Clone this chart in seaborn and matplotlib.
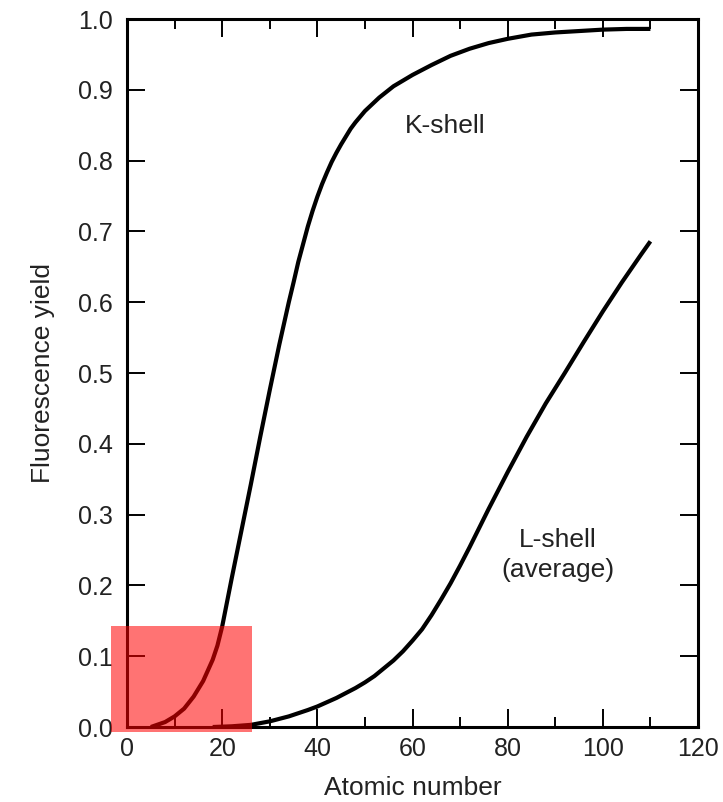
import matplotlib
matplotlib.use("Agg")
import matplotlib.pyplot as plt
from matplotlib.patches import Rectangle
from matplotlib.ticker import MultipleLocator
import pandas as pd
import seaborn as sns

# K-shell fluorescence yield
k_z = [5, 8, 10, 12, 14, 16, 18, 19, 20, 22, 24, 26, 28, 30, 32, 34, 35, 36, 37,
       38, 39, 40, 41, 42, 43, 44, 45, 46, 47, 48, 49, 50, 53, 56, 60, 64, 68,
       72, 76, 80, 85, 90, 95, 100, 105, 110]
k_yield = [0.0, 0.007, 0.015, 0.026, 0.043, 0.065, 0.095, 0.115, 0.142, 0.21,
           0.276, 0.342, 0.41, 0.476, 0.54, 0.60, 0.628, 0.657, 0.682, 0.707,
           0.729, 0.749, 0.767, 0.783, 0.798, 0.811, 0.823, 0.834, 0.845, 0.854,
           0.862, 0.870, 0.889, 0.905, 0.921, 0.935, 0.948, 0.958, 0.966, 0.972,
           0.978, 0.981, 0.983, 0.985, 0.986, 0.986]

# L-shell (average)
l_z = [18, 22, 26, 30, 34, 38, 40, 44, 46, 48, 50, 52, 54, 56, 58, 60, 62, 64,
       66, 68, 70, 72, 74, 76, 78, 80, 84, 88, 92, 96, 100, 104, 108, 110]
l_yield = [0.0, 0.001, 0.003, 0.008, 0.015, 0.024, 0.029, 0.041, 0.048, 0.055,
           0.063, 0.072, 0.083, 0.094, 0.107, 0.122, 0.138, 0.158, 0.18, 0.203,
           0.228, 0.254, 0.281, 0.308, 0.334, 0.36, 0.41, 0.457, 0.5, 0.544,
           0.587, 0.628, 0.667, 0.686]

df = pd.concat([
    pd.DataFrame({"z": k_z, "y": k_yield, "shell": "K"}),
    pd.DataFrame({"z": l_z, "y": l_yield, "shell": "L"}),
])

sns.set_theme(style="ticks")
plt.rcParams['font.family'] = ['Liberation Sans', 'DejaVu Sans']
txt = '#222222'

fig = plt.figure(figsize=(7.23, 8.02), dpi=100)
ax = fig.add_axes([0.1757, 0.0935, 0.7897, 0.8828])

sns.lineplot(data=df, x="z", y="y", units="shell", estimator=None,
             color="black", linewidth=3.0, ax=ax, sort=False,
             solid_joinstyle="round", solid_capstyle="butt")

ax.set_xlim(0, 120)
ax.set_ylim(0, 1.0)
ax.xaxis.set_major_locator(MultipleLocator(20))
ax.xaxis.set_minor_locator(MultipleLocator(10))
ax.yaxis.set_major_locator(MultipleLocator(0.1))
ax.set_yticklabels([f"{v:.1f}" for v in ax.get_yticks()])

ax.tick_params(which="both", direction="in", top=True, right=True,
               color="black", labelcolor=txt, labelsize=18)
ax.tick_params(which="major", length=13, width=1.4, pad=7)
ax.tick_params(which="minor", length=7.5, width=1.4)
ax.tick_params(axis="y", pad=10)
for s in ax.spines.values():
    s.set_linewidth(2.2)
    s.set_color("black")

ax.set_xlabel("Atomic number", fontsize=19, color=txt, labelpad=11)
ax.set_ylabel("Fluorescence yield", fontsize=19, color=txt, labelpad=17)

ax.text(66.8, 0.849, "K-shell", fontsize=19, color=txt, ha="center", va="center")
ax.text(90.5, 0.243, "L-shell\n(average)", fontsize=19, color=txt,
        ha="center", va="center", linespacing=1.3)

# highlighted box in the lower-left corner
ax.add_patch(Rectangle((-3.4, -0.007), 29.7, 0.15, facecolor="red", alpha=0.55,
                       edgecolor="none", clip_on=False, zorder=5))

fig.savefig("out.png", dpi=100)
